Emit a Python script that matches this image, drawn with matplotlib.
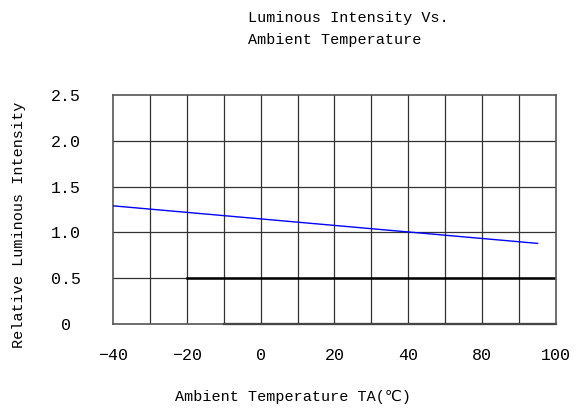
import matplotlib
matplotlib.use("Agg")
import matplotlib.pyplot as plt

# data
temp = [-40, 75]
intensity = [1.29, 0.88]
xticks = [-40, -20, 0, 20, 40, 60, 80]
xtick_labels = ["\u221240", "\u221220", "0", "20", "40", "80", "100"]
yticks = [0, 0.5, 1.0, 1.5, 2.0, 2.5]
ytick_labels = ["0", "0.5", "1.0", "1.5", "2.0", "2.5"]

fam = ["Liberation Mono", "DejaVu Sans Mono", "DejaVu Sans"]
plt.rcParams["font.family"] = fam

fig = plt.figure(figsize=(5.85, 4.09), dpi=100)
ax = fig.add_axes([113/585, 1 - 324/409, 443/585, 229/409])

ax.set_xlim(-40, 80)
ax.set_ylim(0, 2.5)

gc = "#333333"
for x in range(-30, 80, 10):
    ax.axvline(x, color=gc, lw=0.9, zorder=1)
for y in [0.5, 1.0, 1.5, 2.0]:
    ax.axhline(y, color=gc, lw=0.9, zorder=1)
# heavier segments
ax.plot([-20, 80], [0.5, 0.5], color="black", lw=1.8, zorder=2)
ax.plot([-10, 80], [0.0, 0.0], color="black", lw=1.6, zorder=2, clip_on=False)

for s in ax.spines.values():
    s.set_color("#555555")
    s.set_linewidth(1.2)

ax.plot(temp, intensity, color="blue", lw=1.0, zorder=3)

ax.set_xticks(xticks)
ax.set_xticklabels(xtick_labels, fontsize=12)
ax.set_yticks(yticks)
ax.set_yticklabels(ytick_labels, fontsize=12, ha="center")
ax.tick_params(axis="x", length=0, pad=17)
ax.tick_params(axis="y", length=0, pad=34)

fig.text(19/585, 1 - 225/409, "Relative Luminous Intensity", rotation=90,
         ha="center", va="center", fontsize=10.9)
fig.text(175/585, 1 - 397/409, "Ambient Temperature TA(\u2103)",
         ha="left", va="center", fontsize=10.9)
fig.text(248/585, 1 - 18/409, "Luminous Intensity Vs.", ha="left",
         va="center", fontsize=10.9)
fig.text(248/585, 1 - 40/409, "Ambient Temperature", ha="left",
         va="center", fontsize=10.9)

fig.savefig("out.png", dpi=100)
